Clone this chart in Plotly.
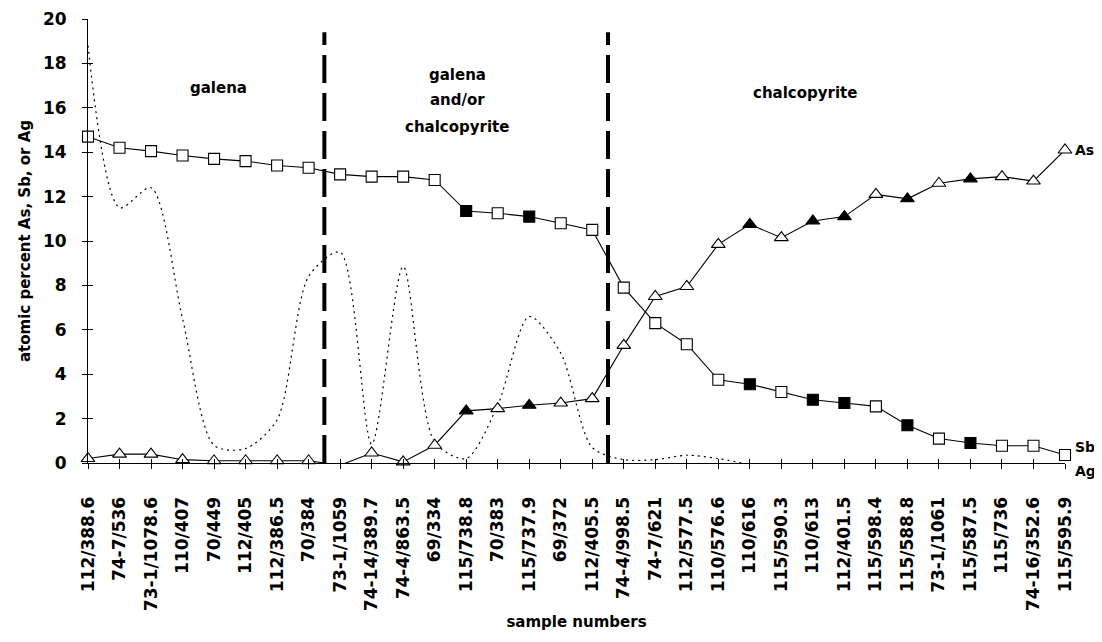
import plotly.graph_objects as go

samples = ["112/388.6", "74-7/536", "73-1/1078.6", "110/407", "70/449", "112/405",
           "112/386.5", "70/384", "73-1/1059", "74-14/389.7", "74-4/863.5", "69/334",
           "115/738.8", "70/383", "115/737.9", "69/372", "112/405.5", "74-4/998.5",
           "74-7/621", "112/577.5", "110/576.6", "110/616", "115/590.3", "110/613",
           "112/401.5", "115/598.4", "115/588.8", "73-1/1061", "115/587.5", "115/736",
           "74-16/352.6", "115/595.9"]

sb = [14.7, 14.2, 14.05, 13.85, 13.7, 13.6, 13.4, 13.3, 13.0, 12.9, 12.9, 12.75,
      11.35, 11.25, 11.1, 10.8, 10.5, 7.9, 6.3, 5.35, 3.75, 3.55, 3.2, 2.85,
      2.7, 2.55, 1.7, 1.1, 0.9, 0.78, 0.78, 0.36]
sb_filled = [0, 0, 0, 0, 0, 0, 0, 0, 0, 0, 0, 0,
             1, 0, 1, 0, 0, 0, 0, 0, 0, 1, 0, 1,
             1, 0, 1, 0, 1, 0, 0, 0]

as_ = [0.2, 0.4, 0.4, 0.15, 0.1, 0.1, 0.1, 0.1, -0.1, 0.45, 0.05, 0.8,
       2.35, 2.45, 2.6, 2.7, 2.9, 5.3, 7.5, 7.95, 9.85, 10.75, 10.15, 10.9,
       11.1, 12.1, 11.9, 12.6, 12.8, 12.9, 12.7, 14.1]
as_filled = [0, 0, 0, 0, 0, 0, 0, 0, 0, 0, 0, 0,
             1, 0, 1, 0, 0, 0, 0, 0, 0, 1, 0, 1,
             1, 0, 1, 0, 1, 0, 0, 0]

ag = [18.8, 11.5, 12.4, 6.5, 0.8, 0.65, 1.95, 8.4, 9.5, 0.85, 8.85, 0.95,
      0.2, 2.6, 6.6, 4.95, 0.7, 0.15, 0.15, 0.35, 0.2, -0.05, -0.05, -0.05,
      -0.05, -0.05, -0.05, -0.1, -0.1, -0.1, -0.15, -0.15]

# boundaries between sample groups (between category indices)
group_bounds = [(7, 8), (16, 17)]
# group label text lines with (x index, y value) positions
group_text = [("galena", 4.13, 16.9),
              ("galena", 11.71, 17.48), ("and/or", 11.71, 16.35), ("chalcopyrite", 11.71, 15.14),
              ("chalcopyrite", 22.76, 16.67)]

FONT = "DejaVu Sans"
x = list(range(len(samples)))

fig = go.Figure()

fig.add_trace(go.Scatter(
    x=x, y=ag, mode="lines",
    line=dict(color="black", width=1.2, dash="2px,4px", shape="spline", smoothing=0.8),
    cliponaxis=False, showlegend=False, hoverinfo="skip"))

fig.add_trace(go.Scatter(
    x=x, y=sb, mode="lines+markers", line=dict(color="black", width=1.1),
    marker=dict(symbol="square", size=11,
                color=["black" if f else "white" for f in sb_filled],
                line=dict(color="black", width=1.1)),
    cliponaxis=False, showlegend=False))

fig.add_trace(go.Scatter(
    x=x, y=as_, mode="lines+markers", line=dict(color="black", width=1.1),
    marker=dict(symbol="triangle-up", size=12,
                color=["black" if f else "white" for f in as_filled],
                line=dict(color="black", width=1.1)),
    cliponaxis=False, showlegend=False))

for a, b in group_bounds:
    xb = (a + b) / 2
    fig.add_shape(type="line", x0=xb, x1=xb, y0=0, y1=19.4, xref="x", yref="y",
                  line=dict(color="black", width=4, dash="28px,10px"), layer="above")

for txt, px, py in group_text:
    fig.add_annotation(x=px, y=py, text=txt, showarrow=False, xref="x", yref="y",
                       font=dict(family=FONT, size=15, color="black", weight="bold"))

# series labels at right end (value, pixel shift)
end_labels = [("As", as_[-1], 0), ("Sb", sb[-1], 8), ("Ag", 0, -8)]
for txt, yy, ys in end_labels:
    fig.add_annotation(x=len(samples) - 1, y=yy, text=txt, showarrow=False,
                       xref="x", yref="y", xanchor="left", xshift=8, yshift=ys,
                       font=dict(family=FONT, size=14, color="black", weight="bold"))

fig.update_layout(
    width=1094, height=634,
    margin=dict(l=80, r=37, t=11, b=179),
    paper_bgcolor="white", plot_bgcolor="white",
    font=dict(family=FONT, color="black"),
    xaxis=dict(range=[0, len(samples) - 1], tickmode="array", tickvals=x, ticktext=samples,
               tickangle=-90, showgrid=False, zeroline=False, showline=True, linecolor="black",
               linewidth=1, ticks="outside", ticklen=5, tickcolor="black", automargin=False,
               ticklabelstandoff=21,
               tickfont=dict(family=FONT, size=17, color="black", weight="bold"),
               title=dict(text="sample numbers",
                          font=dict(family=FONT, size=15, weight="bold"), standoff=6)),
    yaxis=dict(range=[0, 20], tickmode="array", tickvals=list(range(0, 21, 2)),
               showgrid=False, zeroline=False, showline=True, linecolor="black", linewidth=1,
               ticks="outside", ticklen=5, tickcolor="black", automargin=False,
               ticklabelstandoff=12,
               tickfont=dict(family=FONT, size=17, color="black", weight="bold"),
               title=dict(text="atomic percent As, Sb, or Ag",
                          font=dict(family=FONT, size=15, weight="bold"), standoff=8)),
    xaxis2=dict(overlaying="x", range=[0, len(samples) - 1], tickmode="array", tickvals=x,
                showticklabels=False, ticks="inside", ticklen=4, tickcolor="black",
                showgrid=False, zeroline=False, showline=False, side="bottom", anchor="y2",
                automargin=False),
    yaxis2=dict(overlaying="y", range=[0, 20], tickmode="array", tickvals=list(range(0, 21, 2)),
                showticklabels=False, ticks="inside", ticklen=5, tickcolor="black",
                showgrid=False, zeroline=False, showline=False, side="left", anchor="x2",
                automargin=False),
)
fig.add_trace(go.Scatter(x=[0], y=[0], xaxis="x2", yaxis="y2", mode="markers",
                         marker=dict(opacity=0), showlegend=False, hoverinfo="skip"))

fig.write_html("out.html")
